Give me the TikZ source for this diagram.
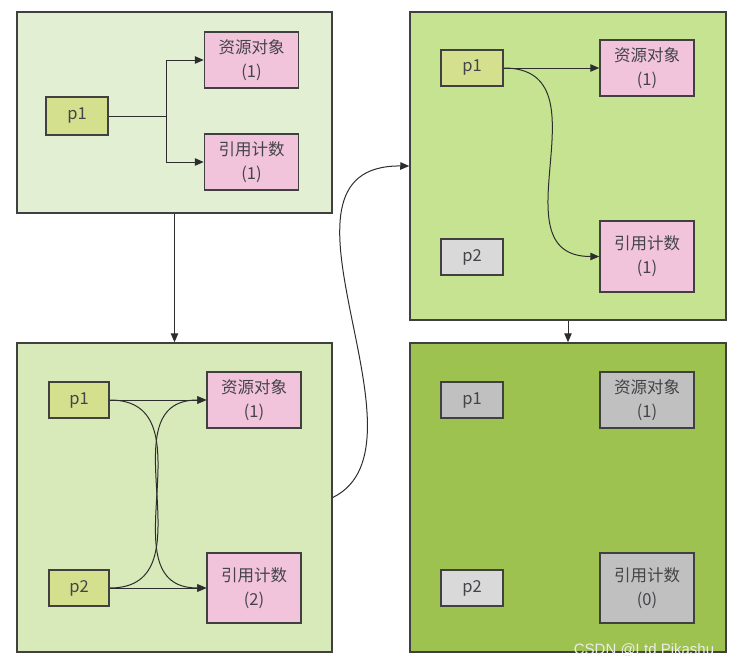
\documentclass[tikz,border=0pt]{standalone}
\usepackage{fontspec}
\newfontfamily\cjk{Noto Sans CJK SC}
\newfontfamily\wmfont{Liberation Sans}
\usetikzlibrary{arrows.meta}
\definecolor{panelA}{RGB}{227,239,211}
\definecolor{panelB}{RGB}{216,233,186}
\definecolor{panelC}{RGB}{197,227,145}
\definecolor{panelD}{RGB}{158,194,79}
\definecolor{ptrgreen}{RGB}{212,224,142}
\definecolor{pinkbox}{RGB}{241,196,220}
\definecolor{deadgray}{RGB}{192,192,192}
\definecolor{idlegray}{RGB}{217,217,217}
\definecolor{edgecol}{RGB}{64,64,64}
\definecolor{txtcol}{RGB}{68,68,72}
\definecolor{linecol}{RGB}{45,45,45}
\tikzset{
  panel/.style={draw=edgecol, line width=1.5pt, inner sep=0pt},
  box/.style={draw=edgecol, line width=1.5pt, inner sep=0pt, align=center,
              font=\cjk\fontsize{16.5}{24}\selectfont, text=txtcol},
  ptr/.style={box, minimum width=62pt, minimum height=36pt},
  objbox/.style={box, minimum width=94pt, minimum height=56pt},
  cntbox/.style={box, minimum width=94pt, minimum height=70pt},
  arr/.style={draw=linecol, line width=1pt, -{Triangle[length=9pt,width=7.5pt]}},
  plain/.style={draw=linecol, line width=1pt}
}
\begin{document}
\begin{tikzpicture}[x=1pt,y=-1pt]
\useasboundingbox (0,0) rectangle (734,665);
% panels
\node[panel, fill=panelA, minimum width=315pt, minimum height=201pt] (P1) at (174.5,112.5) {};
\node[panel, fill=panelB, minimum width=315pt, minimum height=309pt] (P2) at (174.5,497.5) {};
\node[panel, fill=panelC, minimum width=316pt, minimum height=308pt] (P3) at (568,166) {};
\node[panel, fill=panelD, minimum width=316pt, minimum height=309pt] (P4) at (568,497.5) {};

% panel 1
\node[ptr, fill=ptrgreen, minimum height=38pt] (a1) at (77,116) {p1};
\node[objbox, fill=pinkbox] (ares) at (251.5,60) {资源对象\\(1)};
\node[objbox, fill=pinkbox] (acnt) at (251.5,162) {引用计数\\(1)};
\coordinate (aj) at (166,116);
\draw[plain] (a1.east) -- (aj);
\draw[arr] (aj) |- (ares.west);
\draw[arr] (aj) |- (acnt.west);

% panel 2
\node[ptr, fill=ptrgreen, minimum width=60pt] (b1) at (79,400) {p1};
\node[ptr, fill=ptrgreen, minimum width=60pt] (b2) at (79,588) {p2};
\node[objbox, fill=pinkbox] (bres) at (254,400) {资源对象\\(1)};
\node[cntbox, fill=pinkbox] (bcnt) at (254,588) {引用计数\\(2)};
\draw[arr] (b1.east) -- (bres.west);
\draw[arr] (b2.east) -- (bcnt.west);
\draw[arr] (b1.east) to[out=0,in=180,looseness=1.25] (bcnt.west);
\draw[arr] (b2.east) to[out=0,in=180,looseness=1.25] (bres.west);

% panel 3
\node[ptr, fill=ptrgreen] (c1) at (472,68) {p1};
\node[ptr, fill=idlegray] (c2) at (472,257) {p2};
\node[objbox, fill=pinkbox] (cres) at (647,68) {资源对象\\(1)};
\node[cntbox, minimum height=71pt, fill=pinkbox] (ccnt) at (647,256.5) {引用计数\\(1)};
\draw[arr] (c1.east) -- (cres.west);
\draw[arr] (c1.east) to[out=0,in=180,looseness=1.3] (ccnt.west);

% panel 4
\node[ptr, fill=deadgray] (d1) at (472,400) {p1};
\node[ptr, fill=idlegray] (d2) at (472,588) {p2};
\node[objbox, fill=deadgray] (dres) at (647,400) {资源对象\\(1)};
\node[cntbox, fill=deadgray] (dcnt) at (647,588) {引用计数\\(0)};

% transitions
\draw[arr] (P1.south) -- (P2.north);
\draw[arr] (P2.east) .. controls (440,445) and (250,165) .. (P3.west);
\draw[arr] (P3.south) -- (P4.north);

% watermark
\node[font=\wmfont\fontsize{15}{15}\selectfont, text={rgb,255:red,236;green,236;blue,236}, inner sep=0pt] (wm) at (644,650) {CSDN @Ltd Pikashu};
\end{tikzpicture}
\end{document}
